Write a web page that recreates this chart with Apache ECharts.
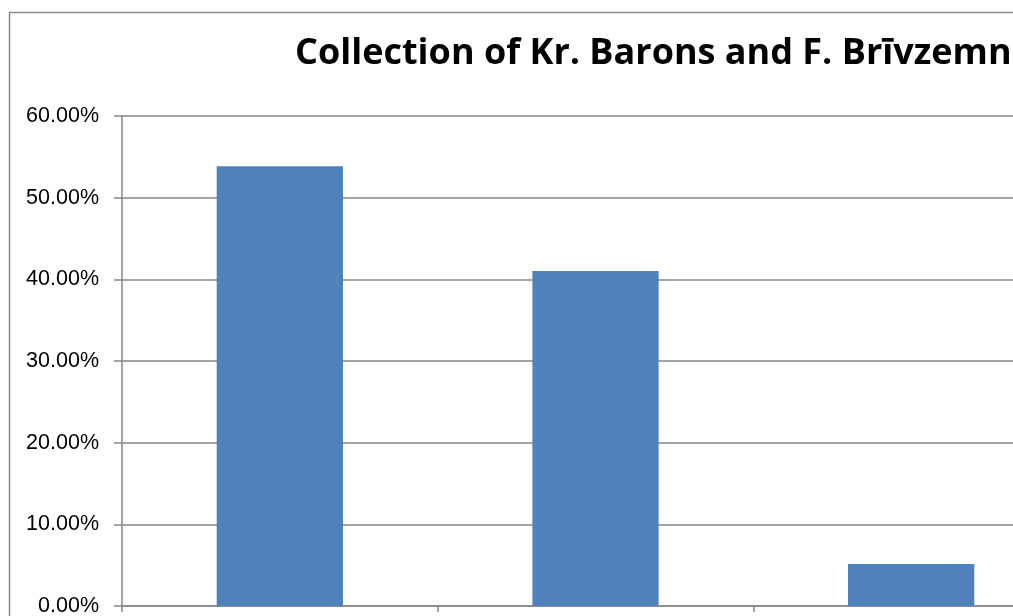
<!DOCTYPE html>
<html lang="en">
<head>
    <meta charset="UTF-8">
    <title>Collection of Kr. Barons and F. Brīvzemnieks</title>
    <style>
        body,html{
            margin: 0;
            padding: 0;
            width: 100%;
            height: 100%;
            overflow: hidden;
            background: #fff;
        }
    </style>
</head>
<body>

<!-- the reference is a crop of a wider chart, so the canvas is bigger than the window -->
<div id="main" style="width: 1200px; height: 700px;"></div>
<script src="https://cdn.jsdelivr.net/npm/echarts@6/dist/echarts.min.js"></script>
<script>
    var titleText = 'Collection of Kr. Barons and F. Brīvzemnieks';
    var categories = ['Group 1', 'Group 2', 'Group 3'];
    var shares = [53.85, 41.03, 5.13];
    var yTicks = [0, 10, 20, 30, 40, 50, 60];

    var myChart = echarts.init(document.getElementById('main'));

    myChart.setOption({
        animation: false,
        title: {
            text: titleText,
            left: 290,
            top: 31,
            textStyle: {
                fontFamily: 'Open Sans',
                fontWeight: 'bold',
                fontSize: 36,
                color: '#000'
            }
        },
        graphic: [{
            type: 'rect',
            shape: {x: 9.5, y: 12.5, width: 1400, height: 900},
            style: {fill: 'none', stroke: '#8c8c8c', lineWidth: 1.5},
            silent: true,
            z: -1
        }],
        grid: {
            left: 122,
            top: 116,
            width: 947,
            height: 490
        },
        xAxis: {
            type: 'category',
            data: categories,
            axisLine: {lineStyle: {color: '#868686', width: 1.5}},
            axisTick: {show: true, length: 6, lineStyle: {color: '#868686', width: 1.5}},
            axisLabel: {fontFamily: 'Liberation Sans', fontSize: 21.5, color: '#000', margin: 14},
            splitLine: {show: false}
        },
        yAxis: {
            type: 'value',
            min: yTicks[0],
            max: yTicks[yTicks.length - 1],
            interval: 10,
            axisLine: {show: true, lineStyle: {color: '#868686', width: 1.5}},
            axisTick: {show: true, length: 8, lineStyle: {color: '#868686', width: 1.5}},
            axisLabel: {
                fontFamily: 'Liberation Sans',
                fontSize: 21.5,
                color: '#000',
                margin: 23,
                formatter: function (v) { return v.toFixed(2) + '%'; }
            },
            splitLine: {lineStyle: {color: '#868686', width: 1.5}}
        },
        series: [{
            type: 'bar',
            data: shares,
            barCategoryGap: '60%',
            itemStyle: {color: '#4f81bd'}
        }]
    });
</script>
</body>
</html>
